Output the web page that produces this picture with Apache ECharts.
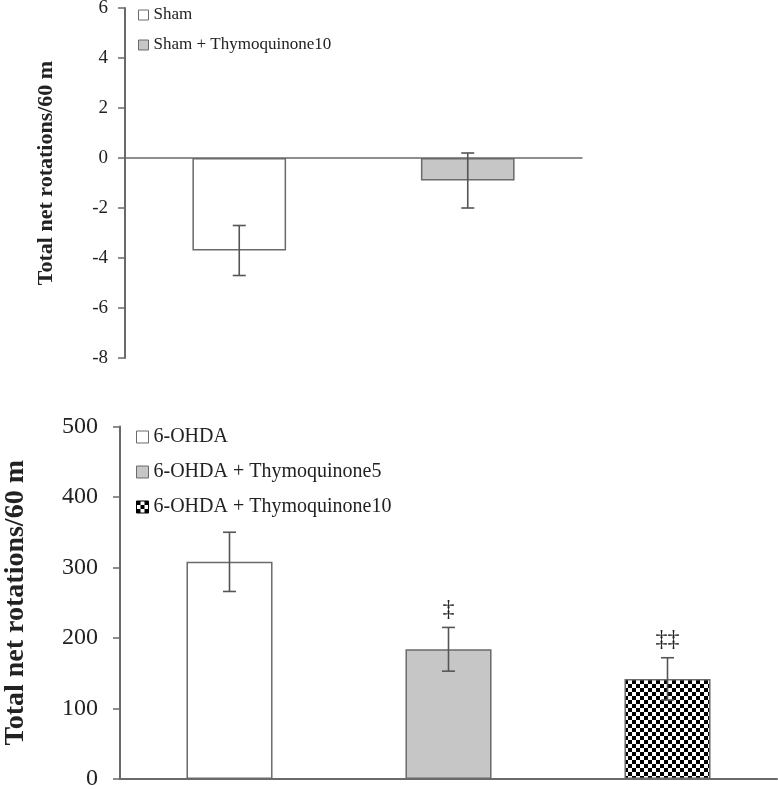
<!DOCTYPE html>
<html>
<head>
<meta charset="utf-8">
<script src="https://cdn.jsdelivr.net/npm/echarts@6/dist/echarts.min.js"></script>
<style>
html,body{margin:0;padding:0;background:#fff;}
#chart{width:778px;height:790px;}
</style>
</head>
<body>
<div id="chart"></div>
<script>
// ---- data ----
const topCategories = ['Sham', 'Sham + Thymoquinone10'];
const topMeans = [-3.7, -0.9];
const topErrors = [1.0, 1.1];
const topAxisMin = -8, topAxisMax = 6, topAxisStep = 2;

const bottomCategories = ['6-OHDA', '6-OHDA + Thymoquinone5', '6-OHDA + Thymoquinone10'];
const bottomMeans = [308, 184, 142];
const bottomErrors = [42, 31, 30];
const bottomMarks = ['', '\u2021', '\u2021\u2021'];
const bottomAxisMin = 0, bottomAxisMax = 500, bottomAxisStep = 100;

const yTitle = 'Total net rotations/60 m';

// ---- styles ----
const LINE = '#6a6a6a';
const TEXT = '#222';
const FONT = '"Liberation Serif", "Times New Roman", serif';

function checker() {
  const c = document.createElement('canvas');
  c.width = 8; c.height = 8;
  const g = c.getContext('2d');
  g.fillStyle = '#fff'; g.fillRect(0, 0, 8, 8);
  g.fillStyle = '#000'; g.fillRect(0, 0, 4, 4); g.fillRect(4, 4, 4, 4);
  return c;
}
const topFills = ['#ffffff', '#c6c6c6'];
const bottomFills = ['#ffffff', '#c6c6c6', { image: checker(), repeat: 'repeat' }];

function barSeries(cats, means, fills, axisIndex, width) {
  return cats.map((name, i) => ({
    name: name,
    type: 'bar',
    xAxisIndex: axisIndex,
    yAxisIndex: axisIndex,
    barWidth: width,
    barGap: '-100%',
    data: means.map((v, j) => (j === i ? v : null)),
    itemStyle: { color: fills[i], borderColor: LINE, borderWidth: 1.5 },
    emphasis: { disabled: true },
    silent: true
  }));
}

function errorSeries(means, errs, marks, axisIndex, markSize) {
  return {
    type: 'custom',
    xAxisIndex: axisIndex,
    yAxisIndex: axisIndex,
    silent: true,
    z: 10,
    data: means.map((m, i) => [i, m - errs[i], m + errs[i]]),
    renderItem: function (params, api) {
      const i = api.value(0);
      const lo = api.coord([i, api.value(1)]);
      const hi = api.coord([i, api.value(2)]);
      const hw = 6.5;
      const st = { stroke: '#555', lineWidth: 1.6 };
      const children = [
        { type: 'line', shape: { x1: lo[0], y1: lo[1], x2: hi[0], y2: hi[1] }, style: st },
        { type: 'line', shape: { x1: lo[0] - hw, y1: lo[1], x2: lo[0] + hw, y2: lo[1] }, style: st },
        { type: 'line', shape: { x1: hi[0] - hw, y1: hi[1], x2: hi[0] + hw, y2: hi[1] }, style: st }
      ];
      const mark = marks ? marks[params.dataIndex] : '';
      if (mark) {
        children.push({
          type: 'text',
          style: {
            text: mark, x: hi[0], y: hi[1] - 18,
            align: 'center', verticalAlign: 'middle',
            fill: TEXT, fontSize: markSize, fontFamily: FONT
          }
        });
      }
      return { type: 'group', children: children };
    }
  };
}

function legendData(cats, fills) {
  return cats.map((n, i) => ({
    name: n,
    icon: 'rect',
    itemStyle: { color: fills[i], borderColor: i === 2 ? '#000' : LINE, borderWidth: 1 }
  }));
}

const option = {
  animation: false,
  backgroundColor: '#fff',
  grid: [
    { left: 125, right: 196, top: 8, bottom: 432, containLabel: false, outerBoundsMode: 'none' },
    { left: 120, right: 1, top: 426.5, bottom: 11, containLabel: false, outerBoundsMode: 'none' }
  ],
  legend: [
    {
      data: legendData(topCategories, topFills),
      orient: 'vertical', left: 133, top: 1.5,
      itemWidth: 10, itemHeight: 10, itemGap: 13,
      textStyle: { fontFamily: FONT, fontSize: 17, color: TEXT, lineHeight: 17 },
      selectedMode: false
    },
    {
      data: legendData(bottomCategories, bottomFills),
      orient: 'vertical', left: 131, top: 422,
      itemWidth: 12, itemHeight: 12, itemGap: 15,
      textStyle: { fontFamily: FONT, fontSize: 20, color: TEXT, lineHeight: 20 },
      selectedMode: false
    }
  ],
  xAxis: [
    {
      type: 'category', gridIndex: 0, data: topCategories,
      axisLine: { onZero: true, lineStyle: { color: LINE, width: 1.5 } },
      axisTick: { show: false }, axisLabel: { show: false }, splitLine: { show: false }
    },
    {
      type: 'category', gridIndex: 1, data: bottomCategories,
      axisLine: { lineStyle: { color: LINE, width: 2 } },
      axisTick: { show: false }, axisLabel: { show: false }, splitLine: { show: false }
    }
  ],
  yAxis: [
    {
      type: 'value', gridIndex: 0, min: topAxisMin, max: topAxisMax, interval: topAxisStep,
      axisLine: { show: true, lineStyle: { color: LINE, width: 2 } },
      axisTick: { show: true, length: 7, lineStyle: { color: LINE, width: 1.5 } },
      axisLabel: { fontFamily: FONT, fontSize: 19, color: TEXT, margin: 17 },
      splitLine: { show: false },
      name: yTitle, nameLocation: 'middle', nameRotate: 90, nameGap: 68,
      nameTextStyle: { fontFamily: FONT, fontSize: 22, fontWeight: 'bold', color: TEXT, padding: [0, 0, 0, 20] }
    },
    {
      type: 'value', gridIndex: 1, min: bottomAxisMin, max: bottomAxisMax, interval: bottomAxisStep,
      axisLine: { show: true, lineStyle: { color: LINE, width: 2 } },
      axisTick: { show: true, length: 7, lineStyle: { color: LINE, width: 1.5 } },
      axisLabel: { fontFamily: FONT, fontSize: 24, color: TEXT, margin: 22 },
      splitLine: { show: false },
      name: yTitle, nameLocation: 'middle', nameRotate: 90, nameGap: 90,
      nameTextStyle: { fontFamily: FONT, fontSize: 28, fontWeight: 'bold', color: TEXT }
    }
  ],
  series: [].concat(
    barSeries(topCategories, topMeans, topFills, 0, '41%'),
    [errorSeries(topMeans, topErrors, null, 0, 18)],
    barSeries(bottomCategories, bottomMeans, bottomFills, 1, '39.3%'),
    [errorSeries(bottomMeans, bottomErrors, bottomMarks, 1, 24)]
  )
};

const chart = echarts.init(document.getElementById('chart'), null, { renderer: 'canvas' });
chart.setOption(option);
</script>
</body>
</html>
